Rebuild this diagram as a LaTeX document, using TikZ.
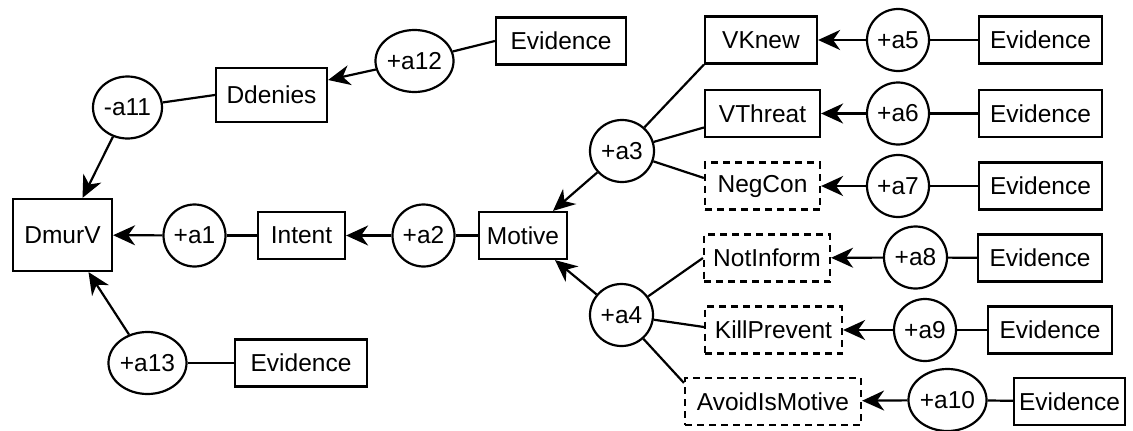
\documentclass[tikz,border=0pt]{standalone}
\usepackage{fontspec}
\setmainfont{Liberation Sans}
\usetikzlibrary{shapes.geometric,arrows.meta,calc}
\begin{document}
\begin{tikzpicture}[x=1pt,y=-1pt,
  txt/.style={font=\fontsize{24.5}{28}\selectfont},
  box/.style={txt,draw,line width=2.2pt,rectangle,inner sep=0pt,minimum height=47pt},
  dbox/.style={box,dash pattern=on 7pt off 5pt},
  arg/.style={txt,draw,line width=2.2pt,ellipse,inner sep=0pt,minimum width=62pt,minimum height=62pt},
  link/.style={line width=2.2pt},
  arr/.style={link,-{Stealth[length=22pt,width=20pt,inset=7pt]}}]
\useasboundingbox (0,0) rectangle (1133,431);

% left part
\node[box,minimum width=99pt,minimum height=72pt] (DmurV) at (62.5,235) {DmurV};
\node[arg] (a1) at (194.5,235.5) {+a1};
\node[box,minimum width=87pt] (Intent) at (301.5,235.5) {Intent};
\node[arg] (a2) at (423.5,235.5) {+a2};
\node[box,minimum width=88pt] (Motive) at (523,235.5) {Motive};

\node[arg,minimum width=69pt] (a11) at (127.5,107.5) {-a11};
\node[box,minimum width=111pt,minimum height=54pt] (Ddenies) at (271.5,95) {Ddenies};
\node[arg,minimum width=71pt] (a12) at (414.5,61) {+a12};
\node[box,minimum width=130pt] (E12) at (561,41) {Evidence};

\node[arg,minimum width=69pt] (a13) at (147.5,363) {+a13};
\node[box,minimum width=132pt] (E13) at (301,363) {Evidence};

% upper right
\node[arg,minimum width=64pt] (a3) at (622,151) {+a3};
\node[box,minimum width=112pt] (VKnew) at (761,40) {VKnew};
\node[box,minimum width=115pt] (VThreat) at (762.5,113.5) {VThreat};
\node[dbox,minimum width=115pt] (NegCon) at (762.5,186) {NegCon};
\node[arg] (a5) at (898,40) {+a5};
\node[arg] (a6) at (898,113.5) {+a6};
\node[arg] (a7) at (898,186) {+a7};
\node[box,minimum width=123pt] (E5) at (1040.5,40) {Evidence};
\node[box,minimum width=123pt] (E6) at (1040.5,113.5) {Evidence};
\node[box,minimum width=123pt] (E7) at (1040.5,186) {Evidence};

% lower right
\node[arg,minimum width=63pt] (a4) at (621.5,315) {+a4};
\node[dbox,minimum width=126pt] (NotInform) at (767,258) {NotInform};
\node[dbox,minimum width=137pt] (KillPrevent) at (773.5,330) {KillPrevent};
\node[dbox,minimum width=176pt] (Avoid) at (773,401.5) {AvoidIsMotive};
\node[arg,minimum width=63pt] (a8) at (915.5,257.5) {+a8};
\node[arg] (a9) at (925,330) {+a9};
\node[arg,minimum width=69pt] (a10) at (947.5,400) {+a10};
\node[box,minimum width=124pt] (E8) at (1040,258) {Evidence};
\node[box,minimum width=124pt] (E9) at (1050,330) {Evidence};
\node[box,minimum width=111pt] (E10) at (1069.5,401.5) {Evidence};

% connectors
\draw[arr] (a1) -- (DmurV);
\draw[link] (Intent) -- (a1);
\draw[arr] (a2) -- (Intent);
\draw[link] (Motive) -- (a2);
\draw[arr] (a11) -- ([xshift=20pt]DmurV.north);
\draw[link] (a11) -- (Ddenies.west);
\draw[arr] (a12) -- ([yshift=15pt]Ddenies.east);
\draw[link] (E12.west) -- (a12);
\draw[arr] (a13) -- ([xshift=26pt]DmurV.south);
\draw[link] (E13) -- (a13);

\draw[arr] (a3) -- ([xshift=30pt]Motive.north);
\draw[link] (a3) -- (VKnew.south west);
\draw[link] (a3) -- ([yshift=-14pt]VThreat.west);
\draw[link] (a3) -- ([yshift=8pt]NegCon.west);
\draw[arr] (a5) -- (VKnew);
\draw[arr] (a6) -- (VThreat);
\draw[arr] (a7) -- (NegCon);
\draw[link] (E5) -- (a5);
\draw[link] (E6) -- (a6);
\draw[link] (E7) -- (a7);

\draw[arr] (a4) -- ([xshift=32pt]Motive.south);
\draw[link] (a4) -- (NotInform.west);
\draw[link] (a4) -- ([yshift=3pt]KillPrevent.west);
\draw[link] (a4) -- ([yshift=-6pt]Avoid.north west);
\draw[arr] (a8) -- (NotInform);
\draw[arr] (a9) -- (KillPrevent);
\draw[arr] (a10) -- (Avoid);
\draw[link] (E8) -- (a8);
\draw[link] (E9) -- (a9);
\draw[link] (E10) -- (a10);
\end{tikzpicture}
\end{document}
